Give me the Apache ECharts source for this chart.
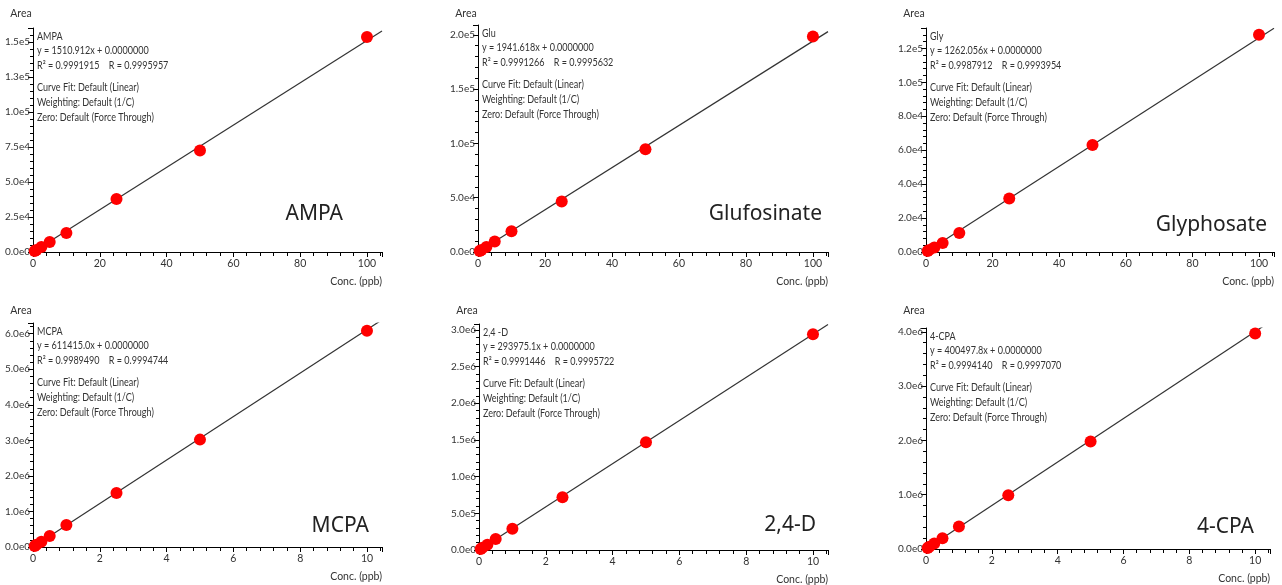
<!DOCTYPE html>
<html>
<head>
<meta charset="utf-8">
<title>Calibration curves</title>
<script src="https://cdn.jsdelivr.net/npm/echarts@6/dist/echarts.min.js"></script>
<style>
  html, body { margin: 0; padding: 0; background: #fff; }
  #chart { width: 1282px; height: 585px; }
</style>
</head>
<body>
<div id="chart"></div>
<script>
// 化合物名称
const bigNames = ['AMPA', 'Glufosinate', 'Glyphosate', 'MCPA', '2,4-D', '4-CPA']
const shortNames = ['AMPA', 'Glu', 'Gly', 'MCPA', '2,4 -D', '4-CPA']

// 拟合参数
const slopes = [1510.912, 1941.618, 1262.056, 611415.0, 293975.1, 400497.8]
const slopeText = ['1510.912', '1941.618', '1262.056', '611415.0', '293975.1', '400497.8']
const r2Text = ['0.9991915', '0.9991266', '0.9987912', '0.9989490', '0.9991446', '0.9994140']
const rText = ['0.9995957', '0.9995632', '0.9993954', '0.9994744', '0.9995722', '0.9997070']

// 浓度 (ppb)
const concHigh = [0.5, 1, 2.5, 5, 10, 25, 50, 100]
const concLow = [0.05, 0.1, 0.25, 0.5, 1, 2.5, 5, 10]

// 峰面积
const areaAMPA = [700, 1500, 3500, 7200, 13500, 37900, 72500, 153500]
const areaGlu = [1000, 1900, 4600, 9600, 19000, 46500, 94500, 198500]
const areaGly = [650, 1250, 2700, 5300, 11200, 31500, 63000, 128000]
const areaMCPA = [30000, 61000, 150000, 310000, 620000, 1520000, 3020000, 6080000]
const area24D = [15000, 30000, 72000, 150000, 290000, 720000, 1470000, 2940000]
const area4CPA = [20000, 40000, 100000, 200000, 415000, 990000, 1980000, 3970000]

// 坐标轴刻度
const xIntervals = [20, 20, 20, 2, 2, 2]
const xMax = [104.5, 104.5, 104.5, 10.45, 10.45, 10.45]
const yIntervals = [25000, 50000, 20000, 1000000, 500000, 1000000]
const yMax = [160000, 209000, 132000, 6300000, 3080000, 4070000]

const concs = [concHigh, concHigh, concHigh, concLow, concLow, concLow]
const areas = [areaAMPA, areaGlu, areaGly, areaMCPA, area24D, area4CPA]

// 布局 (像素)
const grids = [
  { left: 33, top: 28, width: 349, height: 224 },
  { left: 478, top: 25, width: 350, height: 227 },
  { left: 926, top: 28, width: 348, height: 224 },
  { left: 33, top: 323, width: 349, height: 224 },
  { left: 479, top: 324, width: 349, height: 226 },
  { left: 926, top: 328, width: 344, height: 221 }
]
const bigLabelPos = [[343, 214], [822, 214], [1267, 225], [369, 526], [816, 525], [1254, 527]]

const FONT = 'Lato'
const BIG_FONT = 'Noto Sans'
const textColor = '#333'
const SQUEEZE = 0.86 // 原图文字偏窄

const yFormatter = (v) => (v === 0 ? '0.0e0' : v.toExponential(1).replace('+', ''))

const chart = echarts.init(document.getElementById('chart'))

const option = {
  animation: false,
  grid: [],
  xAxis: [],
  yAxis: [],
  series: [],
  graphic: []
}

grids.forEach((g, i) => {
  option.grid.push(g)
  option.xAxis.push({
    type: 'value',
    gridIndex: i,
    min: 0,
    max: xMax[i],
    interval: xIntervals[i],
    axisLine: { show: true, lineStyle: { color: '#000', width: 1 } },
    axisTick: { show: true, length: 5, lineStyle: { color: '#000' } },
    minorTick: { show: true, splitNumber: 5, length: 4, lineStyle: { color: '#000' } },
    splitLine: { show: false },
    axisLabel: {
      showMaxLabel: false,
      color: textColor,
      fontFamily: FONT,
      fontSize: 10.5,
      margin: 6
    }
  })
  option.yAxis.push({
    type: 'value',
    gridIndex: i,
    min: 0,
    max: yMax[i],
    interval: yIntervals[i],
    axisLine: { show: true, lineStyle: { color: '#000', width: 1 } },
    axisTick: { show: true, length: 5, lineStyle: { color: '#000' } },
    minorTick: { show: true, splitNumber: 5, length: 3, lineStyle: { color: '#000' } },
    splitLine: { show: false },
    axisLabel: {
      showMaxLabel: false,
      color: textColor,
      fontFamily: FONT,
      fontSize: 10,
      margin: 3,
      formatter: yFormatter
    }
  })

  // 拟合直线 (过原点)
  option.series.push({
    type: 'line',
    xAxisIndex: i,
    yAxisIndex: i,
    data: [[0, 0], [xMax[i], slopes[i] * xMax[i]]],
    showSymbol: false,
    lineStyle: { color: '#333', width: 1.2 },
    silent: true,
    z: 2
  })
  // 标准点
  option.series.push({
    type: 'scatter',
    xAxisIndex: i,
    yAxisIndex: i,
    data: concs[i].map((c, k) => [c, areas[i][k]]),
    symbolSize: 12,
    itemStyle: { color: '#ff0000', opacity: 1 },
    z: 3
  })

  // 文字注释
  const tx = g.left + 4
  const ty = g.top + 1
  option.graphic.push({
    type: 'text',
    x: tx,
    y: ty,
    scaleX: SQUEEZE,
    style: {
      text: [
        shortNames[i],
        'y = ' + slopeText[i] + 'x + 0.0000000',
        'R² = ' + r2Text[i] + '    R = ' + rText[i]
      ].join('\n'),
      font: '10.5px "' + FONT + '"',
      lineHeight: 14.5,
      fill: textColor
    }
  })
  option.graphic.push({
    type: 'text',
    x: tx,
    y: ty + 51,
    scaleX: SQUEEZE,
    style: {
      text: ['Curve Fit: Default (Linear)', 'Weighting: Default (1/C)', 'Zero: Default (Force Through)'].join('\n'),
      font: '10.5px "' + FONT + '"',
      lineHeight: 15,
      fill: textColor
    }
  })
  // 纵轴标题
  option.graphic.push({
    type: 'text',
    x: g.left - 12,
    y: (i < 3 ? 14 : 311),
    style: {
      text: 'Area',
      font: '10.5px "' + FONT + '"',
      fill: textColor,
      align: 'center',
      verticalAlign: 'middle'
    }
  })
  // 横轴标题
  option.graphic.push({
    type: 'text',
    x: g.left + g.width,
    y: g.top + g.height + 30,
    style: {
      text: 'Conc. (ppb)',
      font: '10.5px "' + FONT + '"',
      fill: textColor,
      align: 'right',
      verticalAlign: 'middle'
    }
  })
  // 大标签
  option.graphic.push({
    type: 'text',
    x: bigLabelPos[i][0],
    y: bigLabelPos[i][1],
    style: {
      text: bigNames[i],
      font: '21px "' + BIG_FONT + '"',
      fill: '#222',
      align: 'right',
      verticalAlign: 'middle'
    }
  })
})

chart.setOption(option)

window.addEventListener('resize', () => {
  chart.resize()
})
</script>
</body>
</html>
